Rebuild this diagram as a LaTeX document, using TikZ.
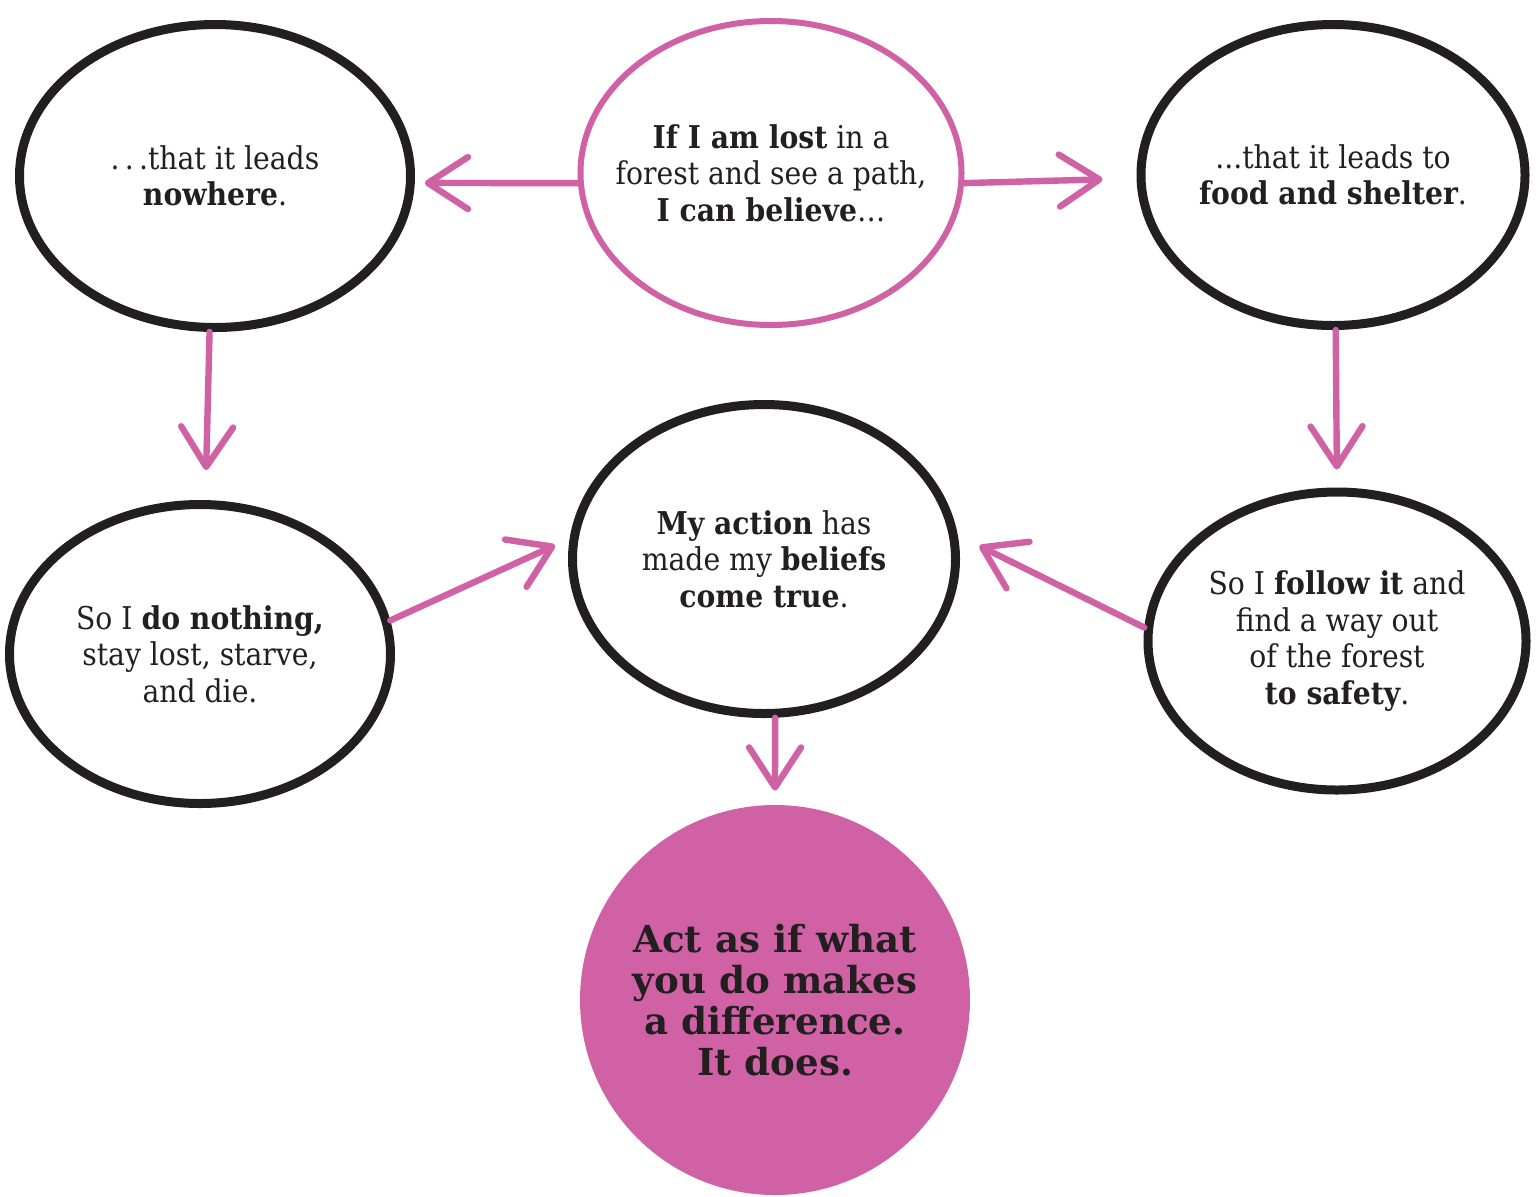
\documentclass[tikz,border=0pt]{standalone}
\usepackage{fontspec}
\setmainfont{DejaVu Serif Condensed}
\newfontfamily\widefont{DejaVu Serif}
\usetikzlibrary{shapes.geometric,arrows.meta}
\definecolor{ink}{HTML}{231F20}
\definecolor{pinkc}{HTML}{D061A4}
\begin{document}
\begin{tikzpicture}[x=0.5pt,y=-0.5pt,
  bub/.style={ellipse, draw=ink, line width=4.5pt, inner sep=-14pt, align=center, text=ink,
    font=\fontsize{15.7}{18.25}\selectfont},
  pbub/.style={bub, draw=pinkc, line width=3pt},
  fbub/.style={circle, fill=pinkc, draw=none, inner sep=0pt, align=center, text=ink,
    font=\widefont\fontsize{18.6}{20.5}\selectfont\bfseries},
  arr/.style={draw=pinkc, line width=3.2pt, line cap=round,
    -{Straight Barb[length=20pt,width=26pt,round]}}]
\useasboundingbox (0,0) rectangle (1536,1196);
\node[bub, minimum width=195.5pt, minimum height=151.5pt] (tl) at (215,176)
  {.\,.\,.that it leads\\\textbf{nowhere}.};
\node[pbub, minimum width=190.5pt, minimum height=152pt] (pk) at (771,173)
  {\textbf{If I am lost} in a\\forest and see a path,\\\textbf{I can believe}\ldots};
\node[bub, minimum width=192pt, minimum height=150.5pt] (tr) at (1333,175)
  {...that it leads to\\\textbf{food and shelter}.};
\node[bub, minimum width=190.5pt, minimum height=149.5pt] (ml) at (200,654)
  {So I \textbf{do nothing,}\\stay lost, starve,\\and die.};
\node[bub, minimum width=191.5pt, minimum height=154.5pt] (cen) at (764,559)
  {\textbf{My action} has\\made my \textbf{beliefs}\\\textbf{come true}.};
\node[bub, minimum width=189pt, minimum height=149pt] (mr) at (1337,641)
  {So I \textbf{follow it} and\\find a way out\\of the forest\\\textbf{to safety}.};
\node[fbub, minimum size=195pt] (bot) at (775,1000)
  {Act as if what\\you do makes\\a difference.\\It does.};
\draw[arr, shorten >=5pt] (pk.183) -- (tl.358);
\draw[arr, shorten >=17pt] (pk.357) -- (tr.181);
\draw[arr, shorten >=15pt] (tl.268) -- (ml.88);
\draw[arr, shorten >=9pt] (tr.271) -- (mr.90);
\draw[arr, shorten >=8pt] (ml.10) -- (cen.174);
\draw[arr, shorten >=12pt] (mr.176) -- (cen.7);
\draw[arr, shorten >=7pt] (cen.274) -- (bot.90);
\end{tikzpicture}
\end{document}
